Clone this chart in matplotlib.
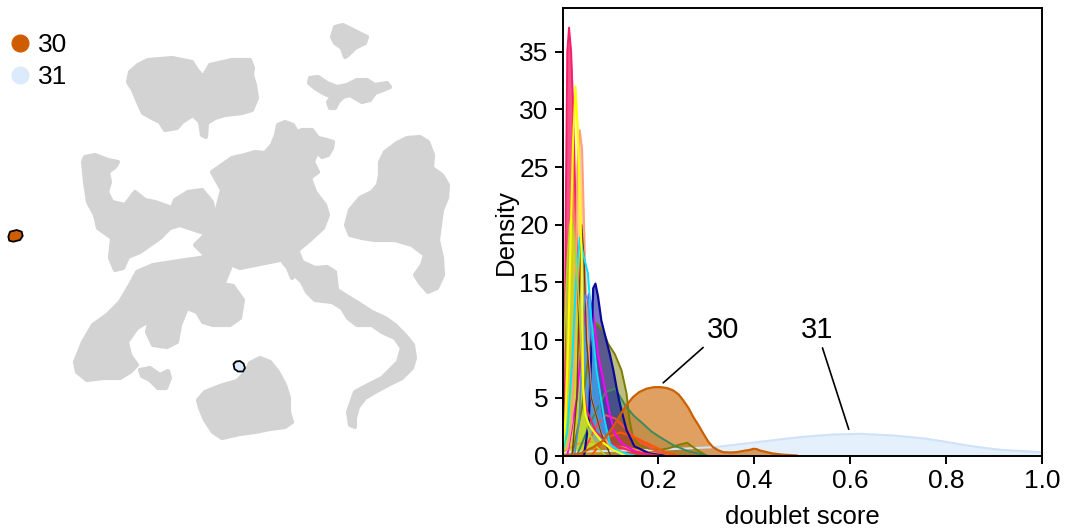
import numpy as np
import matplotlib
matplotlib.use("Agg")
import matplotlib.pyplot as plt
from matplotlib.lines import Line2D

umap_top_left = [(138, 65), (148, 60), (172, 58), (192, 62), (197, 70), (203, 77), (210, 65),
                 (232, 60), (250, 60), (253, 68), (252, 75), (255, 85), (257, 98), (252, 110),
                 (242, 113), (225, 115), (215, 118), (207, 123), (206, 137), (202, 135),
                 (200, 122), (193, 115), (182, 122), (177, 128), (165, 130), (160, 122),
                 (152, 118), (143, 113), (138, 102), (133, 90), (128, 82), (130, 72)]
umap_top_small = [(335, 27), (343, 25), (357, 32), (367, 37), (365, 43), (355, 48), (348, 55),
                  (345, 57), (342, 48), (335, 43), (332, 37)]
umap_branch = [(310, 78), (318, 77), (327, 83), (337, 87), (347, 85), (357, 80), (367, 80),
               (375, 85), (387, 83), (390, 87), (383, 90), (375, 93), (370, 100), (362, 102),
               (355, 98), (350, 95), (343, 97), (338, 102), (335, 108), (330, 108), (328, 102),
               (332, 97), (323, 93), (315, 88), (309, 83)]
umap_right = [(380, 162), (385, 152), (397, 143), (407, 138), (420, 137), (428, 142), (433, 155),
              (432, 168), (442, 175), (448, 185), (447, 198), (442, 210), (440, 225), (438, 240),
              (442, 258), (443, 275), (437, 288), (428, 292), (420, 283), (415, 275), (422, 265),
              (425, 255), (412, 245), (395, 240), (375, 240), (362, 238), (350, 235), (346, 225),
              (350, 210), (360, 198), (372, 192), (378, 185), (380, 175)]
umap_center = [(278, 125), (285, 122), (293, 125), (297, 132), (302, 130), (312, 130), (318, 138),
               (327, 140), (333, 142), (332, 148), (328, 155), (322, 157), (317, 152), (313, 162),
               (318, 172), (310, 178), (315, 192), (325, 205), (328, 215), (323, 228), (310, 240),
               (298, 250), (290, 258), (270, 262), (255, 265), (240, 268), (225, 262), (205, 255),
               (195, 245), (205, 235), (215, 220), (218, 205), (222, 190), (212, 172), (222, 165),
               (232, 158), (245, 155), (255, 152), (265, 153), (272, 145), (276, 135)]
umap_left = [(85, 157), (95, 155), (108, 160), (118, 162), (115, 167), (108, 172), (110, 182),
             (107, 192), (112, 202), (125, 205), (135, 192), (145, 200), (155, 202), (172, 208),
             (175, 200), (188, 192), (202, 190), (212, 202), (215, 218), (210, 235), (195, 230),
             (180, 225), (170, 228), (160, 238), (150, 245), (140, 252), (128, 257), (123, 268),
             (115, 270), (110, 258), (112, 238), (98, 228), (95, 215), (88, 202), (85, 182),
             (83, 162)]
umap_band = [(223, 252), (200, 258), (186, 260), (153, 265), (137, 272), (130, 285), (120, 302),
             (107, 315), (93, 325), (83, 342), (75, 362), (77, 372), (87, 380), (103, 378),
             (120, 378), (130, 372), (137, 365), (130, 355), (127, 342), (137, 328), (147, 322),
             (160, 305), (177, 297), (190, 290), (203, 292), (223, 285), (230, 268)]
umap_mid = [(197, 288), (217, 283), (233, 286), (243, 300), (240, 318), (230, 325), (213, 325),
            (203, 322), (197, 312), (187, 308), (180, 325), (177, 342), (167, 347), (153, 345),
            (147, 332), (150, 318), (165, 305), (180, 298)]
umap_small = [(140, 370), (150, 368), (160, 375), (168, 371), (170, 378), (166, 388), (158, 388),
              (150, 380), (142, 376)]
umap_bottom = [(250, 363), (260, 358), (270, 362), (278, 372), (285, 385), (289, 398), (289, 412),
               (292, 422), (285, 427), (270, 429), (255, 432), (240, 434), (222, 438), (213, 432),
               (205, 420), (200, 408), (198, 400), (205, 392), (220, 386), (237, 381), (246, 372)]
umap_right_band = [(283, 262), (298, 252), (302, 262), (315, 268), (327, 267), (335, 272),
                   (337, 290), (345, 295), (358, 303), (372, 312), (385, 318), (395, 325),
                   (405, 335), (413, 345), (415, 358), (412, 368), (402, 378), (388, 385),
                   (375, 392), (365, 398), (358, 407), (355, 418), (355, 427), (350, 425),
                   (348, 412), (355, 392), (368, 385), (382, 378), (388, 372), (398, 362),
                   (402, 348), (395, 338), (382, 332), (372, 325), (357, 325), (348, 318),
                   (342, 308), (332, 302), (315, 300), (307, 292), (302, 282), (295, 275),
                   (292, 278), (288, 268)]

umap_gray = [umap_top_left, umap_top_small, umap_branch, umap_right, umap_center, umap_left,
             umap_band, umap_mid, umap_small, umap_bottom, umap_right_band]

cluster30_outline = [(8.3, 236.7), (10, 231.7), (16.7, 230), (21.7, 231.7), (22.7, 236),
                     (20, 240), (13.3, 241.7), (9.3, 240.7)]
cluster31_outline = [(233.5, 364), (236, 361.5), (240, 361), (243.5, 363.5), (245, 368),
                     (243, 371.5), (238, 371.5), (234.5, 369)]

highlight_labels = ["30", "31"]
highlight_colors = ["#d05c00", "#dcebfb"]

# ---------------- doublet score densities ----------------
x_crimson = [0.0, 0.004, 0.007, 0.010, 0.0136, 0.018, 0.022, 0.027, 0.033, 0.04, 0.05, 0.07, 0.1, 0.15, 0.2]
y_crimson = [0.5, 6, 22, 35, 37.1, 35, 30.5, 22, 13, 7, 4, 2, 1, 0.3, 0]

x_yellow = [0, 0.006, 0.012, 0.017, 0.022, 0.027, 0.032, 0.036, 0.040, 0.043, 0.048, 0.056, 0.065, 0.08, 0.1, 0.13]
y_yellow = [0.5, 3, 10, 19, 27, 32, 28.2, 23, 17, 6, 3.5, 2.6, 2.1, 1.3, 0.6, 0]

x_lime = [0, 0.003, 0.007, 0.011, 0.015, 0.0185, 0.024, 0.03, 0.036, 0.04, 0.045, 0.055, 0.07, 0.09]
y_lime = [4, 9, 14, 17.5, 20, 20.7, 19, 16, 12, 8, 4, 2, 0.8, 0]

x_salmon = [0.01, 0.02, 0.026, 0.031, 0.036, 0.041, 0.045, 0.05, 0.06, 0.08, 0.1, 0.14]
y_salmon = [0.5, 3, 12, 25, 28.2, 26.5, 20, 12, 5, 2, 0.8, 0]

x_brown = [0.02, 0.03, 0.035, 0.04, 0.045, 0.05, 0.06, 0.08, 0.1]
y_brown = [0, 5, 14, 20, 17, 10, 5, 2, 0]

x_cyan = [0, 0.01, 0.02, 0.028, 0.036, 0.043, 0.053, 0.06, 0.071, 0.08, 0.088, 0.099, 0.12, 0.15]
y_cyan = [0.3, 2, 8, 15, 18.9, 17.5, 15.8, 11.9, 7.4, 5, 3, 1, 0.3, 0]

x_blue = [0.025, 0.035, 0.04, 0.044, 0.048, 0.053, 0.058, 0.065, 0.072, 0.08, 0.09, 0.1, 0.12]
y_blue = [0, 3, 8, 12.5, 13.9, 13.5, 11.5, 8.5, 6, 3.5, 2, 1, 0]

x_navy = [0.045, 0.055, 0.06, 0.064, 0.0687, 0.074, 0.081, 0.09, 0.0986, 0.106, 0.1126, 0.118,
          0.123, 0.1335, 0.15, 0.18, 0.21]
y_navy = [0, 3, 9, 14.5, 14.9, 13.8, 11.7, 10.2, 8.8, 7.4, 5.9, 4.8, 3.9, 2.2, 0.8, 0.2, 0]

x_olive = [0.02, 0.04, 0.055, 0.07, 0.085, 0.095, 0.109, 0.123, 0.1335, 0.14, 0.147, 0.16, 0.18,
           0.2, 0.22, 0.24, 0.26, 0.28, 0.3]
y_olive = [0, 4, 9, 11.5, 10.8, 9.7, 8.8, 7.4, 5.4, 3.0, 1.6, 0.9, 0.6, 0.5, 0.6, 0.9, 1.1, 0.5, 0]

x_green = [0.03, 0.06, 0.09, 0.11, 0.133, 0.15, 0.168, 0.185, 0.203, 0.231, 0.26, 0.3]
y_green = [0, 3, 5.5, 5.8, 4.2, 3.4, 2.75, 2.1, 1.6, 0.9, 0.4, 0]

x_magenta = [0.01, 0.03, 0.045, 0.055, 0.064, 0.074, 0.088, 0.0986, 0.109, 0.125, 0.15, 0.18]
y_magenta = [0, 5, 12, 14, 12.3, 8.8, 5.9, 3.6, 1.9, 1.0, 0.4, 0]

x_tomato = [0.04, 0.07, 0.09, 0.11, 0.13, 0.15, 0.17, 0.19, 0.22]
y_tomato = [0, 2.5, 3.5, 3.2, 2.4, 1.6, 1.0, 0.5, 0]

x_orangered = [0.06, 0.09, 0.12, 0.15, 0.18, 0.21, 0.24]
y_orangered = [0, 1.5, 2.0, 1.6, 1.0, 0.4, 0]

x_gold = [0, 0.03, 0.06, 0.1, 0.14, 0.18, 0.22]
y_gold = [0.3, 1.0, 1.2, 0.9, 0.6, 0.3, 0]

x_c30 = [0.0, 0.036, 0.064, 0.085, 0.105, 0.116, 0.126, 0.137, 0.147, 0.16, 0.175, 0.19, 0.203,
         0.218, 0.231, 0.242, 0.252, 0.263, 0.273, 0.284, 0.294, 0.304, 0.314, 0.325, 0.335, 0.35,
         0.363, 0.378, 0.391, 0.398, 0.405, 0.412, 0.425, 0.439, 0.46, 0.488]
y_c30 = [0.0, 0.15, 0.72, 1.3, 2.46, 3.2, 3.9, 4.55, 5.06, 5.5, 5.79, 5.92, 5.93, 5.85, 5.64, 5.3,
         4.77, 4.1, 3.32, 2.6, 1.88, 1.2, 0.72, 0.45, 0.29, 0.26, 0.29, 0.4, 0.49, 0.58, 0.55,
         0.43, 0.3, 0.17, 0.07, 0.0]

x_c31 = [0.0, 0.1, 0.2, 0.314, 0.36, 0.405, 0.45, 0.495, 0.53, 0.565, 0.621, 0.69, 0.76, 0.8,
         0.844, 0.88, 0.914, 0.997, 1.0]
y_c31 = [0.3, 0.4, 0.5, 0.72, 0.93, 1.15, 1.38, 1.59, 1.72, 1.82, 1.88, 1.74, 1.45, 1.18, 0.87,
         0.66, 0.49, 0.29, 0.28]

# (x, y, line colour, fill alpha, line width), drawn in this order
background_curves = [
    (x_gold, y_gold, "#f0a020", 0.6, 1.4),
    (x_olive, y_olive, "#7d7d00", 0.5, 1.4),
    (x_green, y_green, "#3c8c5a", 0.35, 1.4),
    (x_tomato, y_tomato, "#ff4a4a", 0.45, 1.4),
    (x_orangered, y_orangered, "#ff5500", 0.5, 1.4),
    (x_magenta, y_magenta, "#ff00ff", 0.35, 1.4),
    (x_navy, y_navy, "#0a0a9a", 0.55, 1.6),
    (x_crimson, y_crimson, "#f5206a", 0.8, 1.4),
    (x_salmon, y_salmon, "#ffa07a", 0.6, 1.4),
    (x_brown, y_brown, "#6b3d1a", 0.3, 1.0),
    (x_blue, y_blue, "#4f8fe0", 0.8, 1.2),
    (x_cyan, y_cyan, "#00e5ff", 0.2, 1.4),
    (x_lime, y_lime, "#b5d12a", 0.85, 1.2),
    (x_yellow, y_yellow, "#ffff00", 0.3, 1.5),
]


def setup_plot_style():
    plt.rcParams["font.family"] = ["Liberation Sans", "DejaVu Sans"]
    plt.rcParams["font.size"] = 18
    plt.rcParams["axes.linewidth"] = 1.4


def draw_umap(ax):
    for poly in umap_gray:
        xs, ys = zip(*poly)
        ax.fill(xs, ys, facecolor="#d3d3d3", edgecolor="#d3d3d3", lw=3, joinstyle="round")
    for poly, color in zip([cluster30_outline, cluster31_outline], highlight_colors):
        xs, ys = zip(*poly)
        ax.fill(xs, ys, facecolor=color, edgecolor="black", lw=1.3, joinstyle="round")

    ax.set_xlim(0, 490)
    ax.set_ylim(530, 0)
    ax.axis("off")

    handles = [Line2D([], [], marker="o", ls="", color=c, markersize=12) for c in highlight_colors]
    ax.legend(handles, highlight_labels, loc="upper left", bbox_to_anchor=(0.012, 0.948),
              frameon=False, fontsize=19, handlelength=0.7, handletextpad=0.3,
              labelspacing=0.3, borderpad=0.2, borderaxespad=0)


def draw_density(ax):
    ax.fill_between(x_c31, 0, y_c31, color="#dcebfb", alpha=0.75, lw=0)
    ax.plot(x_c31, y_c31, color="#cfe2f8", lw=1.5)

    for xs, ys, color, alpha, lw in background_curves:
        ax.fill_between(xs, 0, ys, color=color, alpha=alpha, lw=0)
        ax.plot(xs, ys, color=color, lw=lw)

    ax.fill_between(x_c30, 0, y_c30, color="#cc6600", alpha=0.62, lw=0)
    ax.plot(x_c30, y_c30, color="#cc6000", lw=1.6)

    # cluster annotations
    arrow = dict(arrowstyle="-", color="black", lw=1.2, shrinkA=1, shrinkB=0)
    ax.annotate("30", xy=(0.21, 6.3), xytext=(0.335, 10.9), ha="center", va="center",
                fontsize=21, arrowprops=arrow)
    ax.annotate("31", xy=(0.597, 2.27), xytext=(0.53, 10.9), ha="center", va="center",
                fontsize=21, arrowprops=arrow)

    ax.set_xlim(0, 1.0)
    ax.set_ylim(0, 38.8)
    ax.set_xticks(np.arange(0, 1.01, 0.2))
    ax.set_xticklabels([f"{v:.1f}" for v in np.arange(0, 1.01, 0.2)])
    ax.set_yticks(np.arange(0, 36, 5))
    ax.tick_params(direction="out", length=6, width=1.4, labelsize=19, pad=4)
    ax.set_xlabel("doublet score", fontsize=18.5, labelpad=8)
    ax.set_ylabel("Density", fontsize=18.5, labelpad=1)


setup_plot_style()
fig = plt.figure(figsize=(10.65, 5.30), dpi=100)
ax_umap = fig.add_axes([0.0, 0.0, 490 / 1065, 1.0])
ax_kde = fig.add_axes([562.5 / 1065, (530 - 455.5) / 530, (1042 - 562.5) / 1065, (455.5 - 8) / 530])

draw_umap(ax_umap)
draw_density(ax_kde)

fig.savefig("out.png", dpi=100)
plt.close(fig)
